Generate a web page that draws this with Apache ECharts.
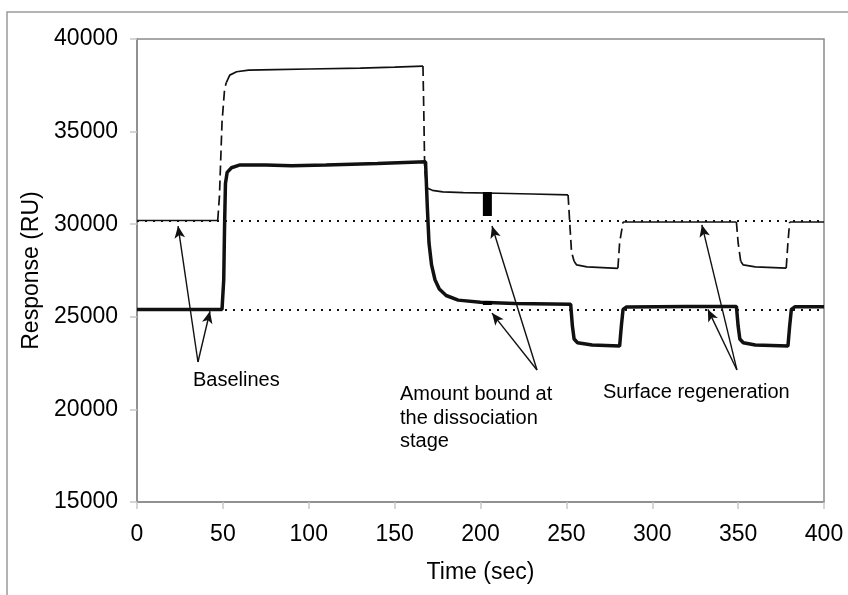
<!DOCTYPE html>
<html>
<head>
<meta charset="utf-8">
<script src="https://cdn.jsdelivr.net/npm/echarts@6/dist/echarts.min.js"></script>
<style>
  html, body { margin: 0; padding: 0; background: #fff; }
  #chart { width: 848px; height: 595px; }
</style>
</head>
<body>
<div id="chart"></div>
<script>
// upper curve (thin, dashed where it jumps)
const thinTime = [0, 47, 48, 49.5, 51, 52, 54, 58, 65, 80, 100, 130, 150, 166.5, 167, 167.5, 168.8, 172, 178, 190, 210, 230, 251, 252, 253, 254.5, 256, 262, 280, 281, 283, 300, 349, 350, 351.5, 353, 360, 378, 379, 380, 400];
const thinResp = [30200, 30200, 31500, 35500, 37300, 37650, 38050, 38230, 38320, 38350, 38380, 38430, 38480, 38540, 36000, 33000, 31950, 31830, 31750, 31700, 31670, 31630, 31580, 30000, 28500, 28000, 27800, 27700, 27620, 29000, 30120, 30120, 30120, 29000, 28000, 27800, 27700, 27630, 29000, 30120, 30120];
const thinDashedSpans = [[47, 52], [166.5, 168.8], [251, 254.5], [280, 283], [349, 351.5], [378, 380]];

// lower curve (thick)
const thickTime = [0, 49.5, 50.5, 51, 51.5, 52.5, 55, 60, 75, 90, 110, 140, 168, 169, 170, 171.5, 173.5, 176, 180, 187, 200, 220, 252.5, 253.5, 254.5, 256.5, 265, 281, 282, 283, 285, 320, 349, 350, 351, 353, 360, 379, 380, 381, 383, 400];
const thickResp = [25400, 25400, 27000, 30000, 32200, 32800, 33050, 33200, 33200, 33150, 33200, 33280, 33370, 31000, 29000, 27800, 27000, 26500, 26150, 25900, 25780, 25720, 25680, 24500, 23800, 23600, 23480, 23420, 24500, 25400, 25530, 25550, 25560, 24500, 23800, 23600, 23480, 23420, 24500, 25400, 25540, 25540];

// dotted baseline levels
const baselineLevels = [30200, 25400];

// amount-bound bars: [time, from, to]
const boundBars = [[204, 30440, 31740], [204, 25640, 25850]];

// annotation arrows: [fromTime, fromResp, toTime, toResp]
const arrows = [
  [35.5, 22560, 23.9, 29900],
  [35.5, 22560, 42.5, 25300],
  [232.9, 22130, 206.7, 29900],
  [232.9, 22130, 206.7, 25200],
  [349.3, 22130, 328.9, 29960],
  [349.3, 22130, 332.4, 25400]
];

// annotation texts: [time, resp (top-left), text]
const notes = [
  [32.6, 22180, "Baselines"],
  [153.1, 21424, "Amount bound at\nthe dissociation\nstage"],
  [271.3, 21532, "Surface regeneration"]
];

const xTicks = { min: 0, max: 400, interval: 50 };
const yTicks = { min: 15000, max: 40000, interval: 5000 };

function inSpan(a, b) {
  return thinDashedSpans.some((s) => a >= s[0] && b <= s[1]);
}

// split thin curve into solid / dashed pieces, gaps as "-"
function buildPieces(dashed) {
  const out = [];
  let open = false;
  for (let i = 0; i < thinTime.length - 1; i++) {
    const d = inSpan(thinTime[i], thinTime[i + 1]);
    if (d === dashed) {
      if (!open) out.push([thinTime[i], thinResp[i]]);
      out.push([thinTime[i + 1], thinResp[i + 1]]);
      open = true;
    } else if (open) {
      out.push(["-", "-"]);
      open = false;
    }
  }
  return out;
}

const chart = echarts.init(document.getElementById("chart"));

const font = "Liberation Sans, Arial, sans-serif";

const option = {
  animation: false,
  backgroundColor: "#fff",
  graphic: [
    {
      type: "rect",
      shape: { x: 7, y: 12, width: 860, height: 620 },
      style: { fill: "none", stroke: "#9a9a9a", lineWidth: 1.5 },
      silent: true
    }
  ],
  grid: {
    left: 137,
    top: 39,
    width: 687,
    height: 463,
    show: true,
    borderColor: "#8a8a8a",
    borderWidth: 1.5
  },
  xAxis: {
    type: "value",
    min: xTicks.min,
    max: xTicks.max,
    interval: xTicks.interval,
    name: "Time (sec)",
    nameLocation: "middle",
    nameGap: 59,
    nameTextStyle: { fontSize: 23, color: "#000", fontFamily: font },
    axisLine: { show: true, lineStyle: { color: "#8a8a8a", width: 1.5 } },
    axisTick: { show: true, length: 7, lineStyle: { color: "#c8c8c8", width: 1.5 } },
    axisLabel: { fontSize: 23, color: "#000", margin: 21, fontFamily: font },
    splitLine: { show: false }
  },
  yAxis: {
    type: "value",
    min: yTicks.min,
    max: yTicks.max,
    interval: yTicks.interval,
    name: "Response (RU)",
    nameLocation: "middle",
    nameGap: 88,
    nameTextStyle: { fontSize: 23, color: "#000", fontFamily: font },
    axisLine: { show: true, lineStyle: { color: "#8a8a8a", width: 1.5 } },
    axisTick: { show: true, length: 7, lineStyle: { color: "#c8c8c8", width: 1.5 } },
    axisLabel: {
      fontSize: 23,
      color: "#000",
      margin: 19,
      fontFamily: font,
      formatter: (v) => String(v)
    },
    splitLine: { show: false }
  },
  series: [
    {
      name: "baselines",
      type: "line",
      data: [],
      silent: true,
      z: 1,
      markLine: {
        silent: true,
        symbol: ["none", "none"],
        label: { show: false },
        lineStyle: { color: "#111", width: 2, type: [2, 6] },
        data: baselineLevels.map((v) => ({ yAxis: v }))
      }
    },
    {
      name: "upper solid",
      type: "line",
      data: buildPieces(false),
      showSymbol: false,
      connectNulls: false,
      lineStyle: { color: "#111", width: 1.7 },
      z: 3
    },
    {
      name: "upper dashed",
      type: "line",
      data: buildPieces(true),
      showSymbol: false,
      connectNulls: false,
      lineStyle: { color: "#111", width: 1.7, type: [10, 5] },
      z: 3
    },
    {
      name: "lower",
      type: "line",
      data: thickTime.map((t, i) => [t, thickResp[i]]),
      showSymbol: false,
      lineStyle: { color: "#111", width: 3.5 },
      z: 4
    },
    ...boundBars.map((b, i) => ({
      name: "bound" + i,
      type: "line",
      data: [[b[0], b[1]], [b[0], b[2]]],
      showSymbol: false,
      lineStyle: { color: "#000", width: 9, cap: "butt" },
      z: 5
    })),
    {
      name: "arrows",
      type: "line",
      data: [],
      z: 6,
      markLine: {
        silent: true,
        symbol: ["none", "arrow"],
        symbolSize: [8, 12],
        label: { show: false },
        lineStyle: { color: "#111", width: 1.4, type: "solid" },
        data: arrows.map((a) => [
          { coord: [a[0], a[1]] },
          { coord: [a[2], a[3]] }
        ])
      }
    },
    {
      name: "notes",
      type: "scatter",
      symbolSize: 0,
      silent: true,
      data: notes,
      itemStyle: { opacity: 1 },
      label: {
        show: true,
        position: "inside",
        align: "left",
        verticalAlign: "top",
        formatter: (p) => p.data[2],
        fontSize: 20,
        lineHeight: 23.5,
        color: "#000",
        opacity: 1,
        fontFamily: font
      },
      z: 7
    }
  ]
};

chart.setOption(option);
</script>
</body>
</html>
